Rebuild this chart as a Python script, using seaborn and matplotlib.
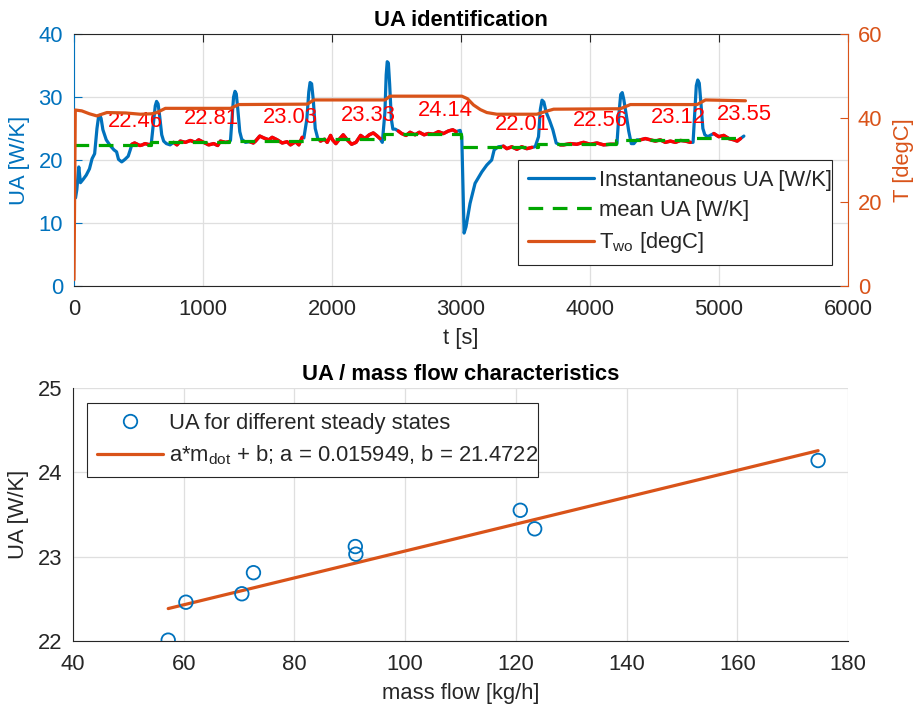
import numpy as np
import pandas as pd
import matplotlib
matplotlib.use("Agg")
import matplotlib.pyplot as plt
from matplotlib.lines import Line2D
import seaborn as sns

# ---------------- data ----------------
# instantaneous UA [W/K] over time [s]
ua_t = [12, 22, 37, 50, 70, 95, 120, 140, 160, 178, 190, 200, 210, 224, 250, 280, 310, 330, 345, 370, 395, 420, 436,
        449, 470, 490, 510, 530, 550, 570, 590,
        600, 617, 630, 640, 652, 665, 680, 695, 716, 745,
        772, 798, 824, 863, 902, 941, 967, 1005, 1044, 1083, 1114, 1135, 1174, 1200,
        1213, 1225, 1237, 1248, 1258, 1270, 1285, 1300, 1329,
        1363, 1390, 1407, 1440, 1471, 1510, 1536, 1575, 1614, 1652, 1678, 1717, 1743, 1769,
        1782, 1805, 1820, 1830, 1842, 1855, 1870, 1890,
        1911, 1942, 1963, 1989, 2004, 2030, 2061, 2087, 2118, 2152, 2186, 2222, 2255, 2289, 2320, 2345, 2372,
        2390, 2410, 2420, 2428, 2437, 2447, 2460, 2472, 2490,
        2514, 2540, 2574, 2605, 2644, 2677, 2714, 2747, 2786, 2825, 2864, 2902, 2936, 2962,
        2993, 3006, 3024, 3039, 3070, 3109, 3161, 3200, 3238, 3257, 3290,
        3329, 3355, 3394, 3433, 3471, 3510, 3549,
        3575, 3601, 3615, 3628, 3642, 3660, 3686, 3712, 3738,
        3769, 3795, 3847, 3898, 3950, 4002, 4054, 4105, 4157, 4196,
        4209, 4225, 4238, 4250, 4262, 4280, 4300, 4320, 4340, 4364,
        4390, 4429, 4468, 4507, 4545, 4584, 4623, 4662, 4701, 4740, 4778,
        4799, 4812, 4824, 4835, 4847, 4860, 4875, 4890, 4913, 4940,
        4960, 4998, 5037, 5076, 5115, 5141, 5167, 5193]
ua_val = [14.0, 15.3, 18.9, 16.4, 16.9, 17.6, 18.6, 20.2, 21.0, 25.0, 26.8, 27.1, 26.6, 24.8, 23.2, 22.3, 21.6, 21.3, 20.1, 19.7, 20.1, 20.6, 21.6,
          22.5, 22.7, 22.5, 22.3, 22.4, 22.6, 22.5, 22.4,
          22.8, 26.0, 28.6, 29.3, 28.9, 26.8, 24.0, 23.0, 22.6, 22.4,
          22.8, 22.4, 23.0, 22.8, 23.1, 22.8, 23.2, 22.8, 22.4, 22.6, 22.3, 23.0, 22.8, 22.9,
          23.1, 26.5, 30.0, 30.9, 30.5, 28.0, 24.5, 23.3, 22.8,
          22.9, 22.7, 23.0, 23.8, 23.5, 23.2, 23.6, 23.2, 22.7, 22.9, 22.4, 22.9, 22.4, 23.6,
          23.5, 26.5, 30.8, 32.3, 32.1, 29.5, 25.0, 23.4,
          23.0, 23.3, 22.8, 23.9, 23.2, 22.6, 23.4, 24.0, 23.2, 22.5, 22.8, 23.9, 23.4, 24.0, 24.3, 23.9, 23.4,
          22.8, 27.5, 33.5, 35.6, 35.4, 32.0, 26.5, 24.9, 24.9,
          24.6, 24.2, 23.9, 24.4, 24.0, 24.4, 24.0, 24.2, 24.1, 24.5, 24.2, 24.6, 24.8, 24.5,
          24.7, 23.7, 8.4, 9.4, 13.1, 16.3, 18.1, 19.2, 20.0, 21.6, 22.1,
          22.2, 21.8, 22.1, 21.7, 22.1, 21.8, 22.0,
          22.1, 23.7, 28.0, 29.5, 29.2, 27.6, 26.3, 24.8, 22.7,
          22.4, 22.4, 22.6, 22.5, 22.8, 22.5, 22.7, 22.4, 22.5, 22.5,
          22.6, 27.5, 30.4, 30.7, 29.6, 27.3, 24.6, 22.6, 22.6, 23.2,
          23.2, 23.4, 23.2, 23.0, 23.2, 22.8, 23.0, 22.8, 23.1, 23.0, 22.8,
          22.8, 27.5, 31.8, 32.7, 32.2, 29.0, 25.0, 24.0, 23.7, 24.0,
          24.2, 23.7, 23.9, 23.4, 23.2, 23.0, 23.4, 23.8]

# outlet water temperature T_wo [degC]
t_wo_t = [0, 10, 60, 120, 177, 255, 400, 514, 600, 643, 708, 1213, 1277, 1808, 1860, 2411, 2450, 3006, 3050, 3097,
          3150, 3200, 3278, 3588, 3650, 3718, 4235, 4313, 4830, 4895, 5205]
t_wo_val = [1.5, 41.9, 41.7, 41.0, 40.5, 41.3, 41.2, 40.9, 41.0, 41.3, 42.3, 42.3, 43.2, 43.3, 44.3, 44.3, 45.2, 45.2, 44.6, 43.1,
            42.0, 41.3, 40.9, 40.9, 41.5, 42.1, 42.2, 43.2, 43.2, 44.3, 44.1]

# steady-state periods and their mean UA
period_start = [0, 600, 1200, 1800, 2400, 3000, 3600, 4200, 4800]
period_end = [600, 1200, 1800, 2400, 3000, 3600, 4200, 4800, 5190]
mean_ua = [22.46, 22.81, 23.03, 23.33, 24.14, 22.01, 22.56, 23.12, 23.55]
# steady windows used for the mean (red)
steady_start = [445, 765, 1360, 1905, 2510, 3325, 3765, 4385, 4955]
steady_end = [592, 1205, 1772, 2375, 2965, 3552, 4200, 4782, 5170]
label_t = [474, 1069, 1677, 2279, 2879, 3472, 4082, 4684, 5197]

# UA vs mass flow
mass_flow = [60.4, 72.6, 91.1, 123.4, 174.6, 57.2, 70.5, 91.0, 120.8]
ua_ss = [22.46, 22.81, 23.03, 23.33, 24.14, 22.01, 22.56, 23.12, 23.55]
fit_a = 0.015949
fit_b = 21.4722

# ---------------- style ----------------
sns.set_theme(style="white")
plt.rcParams["font.family"] = ["Liberation Sans", "DejaVu Sans"]
plt.rcParams["mathtext.default"] = "regular"
FS = 15.8

BLUE = "#0072BD"
ORANGE = "#D95319"
GREEN = "#00A600"
RED = "#FF0000"
DARK = "#262626"
GRID = "#DFDFDF"

fig = plt.figure(figsize=(9.17, 7.11), dpi=100)
W, H = 917, 711
ax = fig.add_axes([74 / W, 1 - 286 / H, 774 / W, 252 / H])
ax2 = ax.twinx()
bx = fig.add_axes([73 / W, 1 - 641 / H, 775 / W, 253 / H])

df_ua = pd.DataFrame({"t": ua_t, "ua": ua_val})
df_tw = pd.DataFrame({"t": t_wo_t, "T": t_wo_val})

# instantaneous UA
sns.lineplot(data=df_ua, x="t", y="ua", ax=ax, color=BLUE, lw=2.3, estimator=None, sort=False, zorder=3)
# steady-state parts in red
for s, e in zip(steady_start, steady_end):
    seg = df_ua[(df_ua.t >= s) & (df_ua.t <= e)]
    sns.lineplot(data=seg, x="t", y="ua", ax=ax, color=RED, lw=2.5, estimator=None, sort=False, zorder=4)
# mean UA step line
step_t, step_y = [], []
for s, e, m in zip(period_start, period_end, mean_ua):
    step_t += [s, e]
    step_y += [m, m]
df_mean = pd.DataFrame({"t": step_t, "m": step_y})
sns.lineplot(data=df_mean, x="t", y="m", ax=ax, color=GREEN, lw=2.3, estimator=None, sort=False,
             linestyle=(0, (4.6, 3.0)), zorder=5)
# labels
for lt, m in zip(label_t, mean_ua):
    ax.text(lt, m + 3.7, f"{m:.2f}", color=RED, fontsize=FS, ha="center", va="center", zorder=6)

# T_wo
sns.lineplot(data=df_tw, x="t", y="T", ax=ax2, color=ORANGE, lw=2.3, estimator=None, sort=False)

ax.set_xlim(0, 6000)
ax.set_ylim(0, 40)
ax2.set_ylim(0, 60)
ax.set_xticks(range(0, 6001, 1000))
ax.set_yticks(range(0, 41, 10))
ax2.set_yticks(range(0, 61, 20))
ax.grid(True, color=GRID, lw=0.9)
ax.set_axisbelow(True)

ax.set_title("UA identification", fontsize=FS, fontweight="bold", color="black", pad=6)
ax.set_xlabel("t [s]", fontsize=FS, color=DARK, labelpad=6)
ax.set_ylabel("UA [W/K]", fontsize=FS, color=BLUE, labelpad=6)
ax2.set_ylabel("T [degC]", fontsize=FS, color=ORANGE, labelpad=8)

ax.tick_params(axis="x", direction="in", length=5.5, width=0.8, colors=DARK, labelsize=FS, top=True, pad=9)
ax.tick_params(axis="y", direction="in", length=5.5, width=0.8, colors=BLUE, labelsize=FS, pad=8)
ax2.tick_params(axis="y", direction="in", length=5.5, width=0.8, colors=ORANGE, labelsize=FS, pad=7)

for sp in ["top", "bottom"]:
    ax.spines[sp].set_color(DARK)
    ax.spines[sp].set_linewidth(0.8)
    ax2.spines[sp].set_visible(False)
ax.spines["left"].set_color(BLUE)
ax.spines["left"].set_linewidth(0.8)
ax.spines["right"].set_visible(False)
ax2.spines["left"].set_visible(False)
ax2.spines["right"].set_color(ORANGE)
ax2.spines["right"].set_linewidth(0.8)

handles = [Line2D([], [], color=BLUE, lw=2.3),
           Line2D([], [], color=GREEN, lw=2.3, ls=(0, (4.6, 3.0))),
           Line2D([], [], color=ORANGE, lw=2.3)]
labels = ["Instantaneous UA [W/K]", "mean UA [W/K]", "T$_{wo}$ [degC]"]
leg = ax2.legend(handles, labels, loc="lower left", bbox_to_anchor=(0.574, 0.083, 0.405, 0.406),
                 mode="expand", fontsize=FS, frameon=True, fancybox=False, framealpha=1,
                 edgecolor=DARK, borderaxespad=0, handlelength=3.0, handletextpad=0.25,
                 labelspacing=0.42, borderpad=0.45)
leg.get_frame().set_linewidth(0.8)

# ---------------- bottom chart ----------------
df_ss = pd.DataFrame({"mf": mass_flow, "ua": ua_ss})
sns.scatterplot(data=df_ss, x="mf", y="ua", ax=bx, marker="o", s=95, zorder=4)
coll = bx.collections[-1]
coll.set_facecolor("none")
coll.set_edgecolor(BLUE)
coll.set_linewidth(1.3)

fit_x = [min(mass_flow), max(mass_flow)]
df_fit = pd.DataFrame({"mf": fit_x, "ua": [fit_a * x + fit_b for x in fit_x]})
sns.lineplot(data=df_fit, x="mf", y="ua", ax=bx, color=ORANGE, lw=2.3, estimator=None, sort=False, zorder=3)

bx.set_xlim(40, 180)
bx.set_ylim(22, 25)
bx.set_xticks(range(40, 181, 20))
bx.set_yticks([22, 23, 24, 25])
bx.grid(True, color=GRID, lw=0.9)
bx.set_axisbelow(True)
bx.set_title("UA / mass flow characteristics", fontsize=FS, fontweight="bold", color="black", pad=6)
bx.set_xlabel("mass flow [kg/h]", fontsize=FS, color=DARK, labelpad=6)
bx.set_ylabel("UA [W/K]", fontsize=FS, color=DARK, labelpad=6)
bx.tick_params(direction="in", length=5.5, width=0.8, colors=DARK, labelsize=FS)
bx.tick_params(axis="x", pad=9)
bx.tick_params(axis="y", pad=8)
for sp in ["top", "right"]:
    bx.spines[sp].set_visible(False)
for sp in ["left", "bottom"]:
    bx.spines[sp].set_color(DARK)
    bx.spines[sp].set_linewidth(0.8)

h2 = [Line2D([], [], marker="o", ls="none", mfc="none", mec=BLUE, mew=1.3, ms=9.7),
      Line2D([], [], color=ORANGE, lw=2.3)]
l2 = ["UA for different steady states", f"a*m$_{{dot}}$ + b; a = {fit_a}, b = {fit_b}"]
leg2 = bx.legend(h2, l2, loc="upper left", bbox_to_anchor=(0.0185, 0.647, 0.5815, 0.293),
                 mode="expand", fontsize=FS, frameon=True, fancybox=False, framealpha=1,
                 edgecolor=DARK, borderaxespad=0, handlelength=3.0, handletextpad=0.25,
                 labelspacing=0.42, borderpad=0.45)
leg2.get_frame().set_linewidth(0.8)

fig.savefig("out.png", dpi=100, facecolor="white")
